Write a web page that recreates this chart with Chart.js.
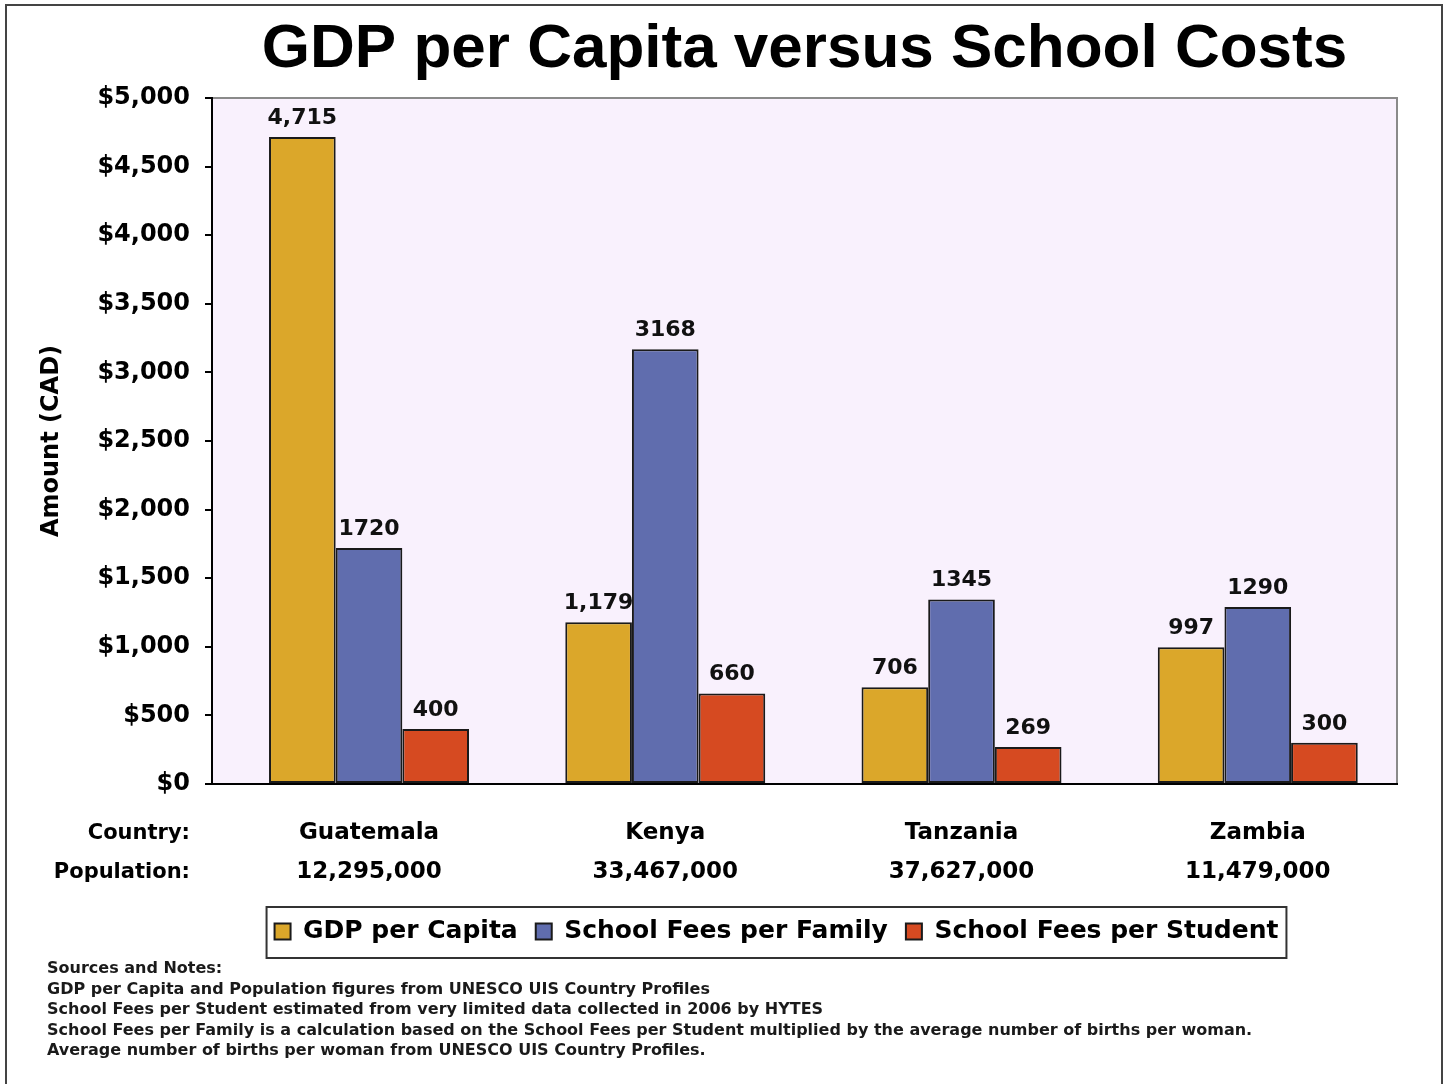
<!DOCTYPE html>
<html>
<head>
<meta charset="utf-8">
<script src="https://cdn.jsdelivr.net/npm/chart.js"></script>
<style>
  body { margin: 0; background: #fff; }
  #frame { position: absolute; left: 5px; top: 4px; width: 1434px; height: 1200px; border: 2px solid #444; }
  #canvas { position: absolute; left: 0; top: 0; }
  .rowlabel { position: absolute; width: 190px; left: 0; text-align: right; font: bold 21px "DejaVu Sans"; color: #000; }
  #notes { position: absolute; left: 47px; top: 958px; font: bold 16px "DejaVu Sans"; line-height: 20.5px; color: #1a1a1a; }
</style>
</head>
<body>
<div id="frame"></div>
<canvas id="canvas" width="1447" height="1084"></canvas>
<div class="rowlabel" style="top: 820px">Country:</div>
<div class="rowlabel" style="top: 859px">Population:</div>
<div id="notes">
Sources and Notes:<br>
GDP per Capita and Population figures from UNESCO UIS Country Profiles<br>
School Fees per Student estimated from very limited data collected in 2006 by HYTES<br>
School Fees per Family is a calculation based on the School Fees per Student multiplied by the average number of births per woman.<br>
Average number of births per woman from UNESCO UIS Country Profiles.
</div>
<script>
// data
countries = ['Guatemala', 'Kenya', 'Tanzania', 'Zambia']
populations = ['12,295,000', '33,467,000', '37,627,000', '11,479,000']

gdpPerCapita = [4715, 1179, 706, 997]
feesPerFamily = [1720, 3168, 1345, 1290]
feesPerStudent = [400, 660, 269, 300]

yMax = 5000
yStep = 500

const FONT = 'DejaVu Sans';

// lavender plot background + grey top/right border
const plotBg = {
    id: 'plotBg',
    beforeDraw(chart) {
        const a = chart.chartArea;
        const ctx = chart.ctx;
        ctx.save();
        ctx.fillStyle = '#F9F1FD';
        ctx.fillRect(a.left, a.top, a.right - a.left, a.bottom - a.top);
        ctx.strokeStyle = '#8a8a8a';
        ctx.lineWidth = 2;
        ctx.beginPath();
        ctx.moveTo(a.left, a.top);
        ctx.lineTo(a.right, a.top);
        ctx.lineTo(a.right, a.bottom);
        ctx.stroke();
        ctx.restore();
    }
};

// value labels above each bar
const barLabels = {
    id: 'barLabels',
    afterDatasetsDraw(chart) {
        const ctx = chart.ctx;
        ctx.save();
        ctx.font = 'bold 22px "' + FONT + '"';
        ctx.fillStyle = '#111';
        ctx.textAlign = 'center';
        ctx.textBaseline = 'alphabetic';
        chart.data.datasets.forEach(function (ds, i) {
            chart.getDatasetMeta(i).data.forEach(function (bar, j) {
                let v = ds.data[j];
                let txt = i === 0 ? v.toLocaleString('en-US') : String(v);
                ctx.fillText(txt, bar.x, bar.y - 13);
            });
        });
        ctx.restore();
    }
};

// nudge the legend a bit left, then draw a box round it
const legendShift = 28;
const legendBox = {
    id: 'legendBox',
    afterLayout(chart) {
        const lg = chart.legend;
        lg.left -= legendShift;
        lg.right -= legendShift;
        (lg.legendHitBoxes || []).forEach(function (hb) { hb.left -= legendShift; });
    },
    afterDraw(chart) {
        const boxes = chart.legend.legendHitBoxes;
        if (!boxes || !boxes.length) return;
        let l = Math.min(...boxes.map(b => b.left));
        let r = Math.max(...boxes.map(b => b.left + b.width));
        let t = Math.min(...boxes.map(b => b.top));
        let b2 = Math.max(...boxes.map(b => b.top + b.height));
        const ctx = chart.ctx;
        ctx.save();
        ctx.strokeStyle = '#333';
        ctx.lineWidth = 2;
        ctx.strokeRect(l - 8, t - 12, r - l + 16, b2 - t + 26);
        ctx.restore();
    }
};

const ctx = document.getElementById('canvas').getContext('2d');
const myChart = new Chart(ctx, {
    type: 'bar',
    data: {
        labels: countries.map((c, i) => [c, populations[i]]),
        datasets: [{
            label: 'GDP per Capita',
            data: gdpPerCapita,
            backgroundColor: '#DBA72A',
        }, {
            label: 'School Fees per Family',
            data: feesPerFamily,
            backgroundColor: '#606DAE',
        }, {
            label: 'School Fees per Student',
            data: feesPerStudent,
            backgroundColor: '#D64A21',
        }]
    },
    options: {
        responsive: false,
        animation: false,
        datasets: {
            bar: {
                borderColor: '#1a1a1a',
                borderWidth: 2,
                borderSkipped: false,
                categoryPercentage: 0.675,
                barPercentage: 1.0
            }
        },
        layout: {
            padding: { left: 0, right: 50, top: 0, bottom: 130 }
        },
        plugins: {
            title: {
                display: true,
                fullSize: false,
                text: 'GDP per Capita versus School Costs',
                color: '#000',
                font: { family: 'Liberation Sans', size: 62, weight: 'bold', lineHeight: 1 },
                padding: { top: 19, bottom: 17 }
            },
            legend: {
                display: true,
                fullSize: false,
                position: 'bottom',
                labels: {
                    color: '#000',
                    boxWidth: 16,
                    boxHeight: 16,
                    padding: 18,
                    font: { family: FONT, size: 25, weight: 'bold' }
                }
            },
            tooltip: { enabled: false }
        },
        scales: {
            x: {
                grid: { display: false, drawTicks: false },
                border: { color: '#000', width: 2 },
                ticks: {
                    color: '#000',
                    padding: 29,
                    font: { family: FONT, size: 23, weight: 'bold', lineHeight: 1.72 }
                },
                // the original groups sit a little right of each category centre
                afterBuildTicks: function (scale) {
                    if (typeof scale._startValue === 'number') scale._startValue -= 0.03;
                },
                afterFit: function (scale) { scale.height = 117; }
            },
            y: {
                min: 0,
                max: yMax,
                grid: { drawOnChartArea: false, drawTicks: true, tickLength: 7, color: '#000', lineWidth: 2 },
                border: { color: '#000', width: 2 },
                ticks: {
                    stepSize: yStep,
                    color: '#000',
                    padding: 15,
                    font: { family: FONT, size: 24, weight: 'bold' },
                    callback: function (value) {
                        return '$' + value.toLocaleString('en-US');
                    }
                },
                title: {
                    display: true,
                    text: 'Amount (CAD)',
                    color: '#000',
                    font: { family: FONT, size: 24, weight: 'bold' },
                    padding: { top: 37, bottom: 0 }
                },
                afterFit: function (scale) { scale.width = 212; }
            }
        }
    },
    plugins: [plotBg, barLabels, legendBox]
});
</script>
</body>
</html>
